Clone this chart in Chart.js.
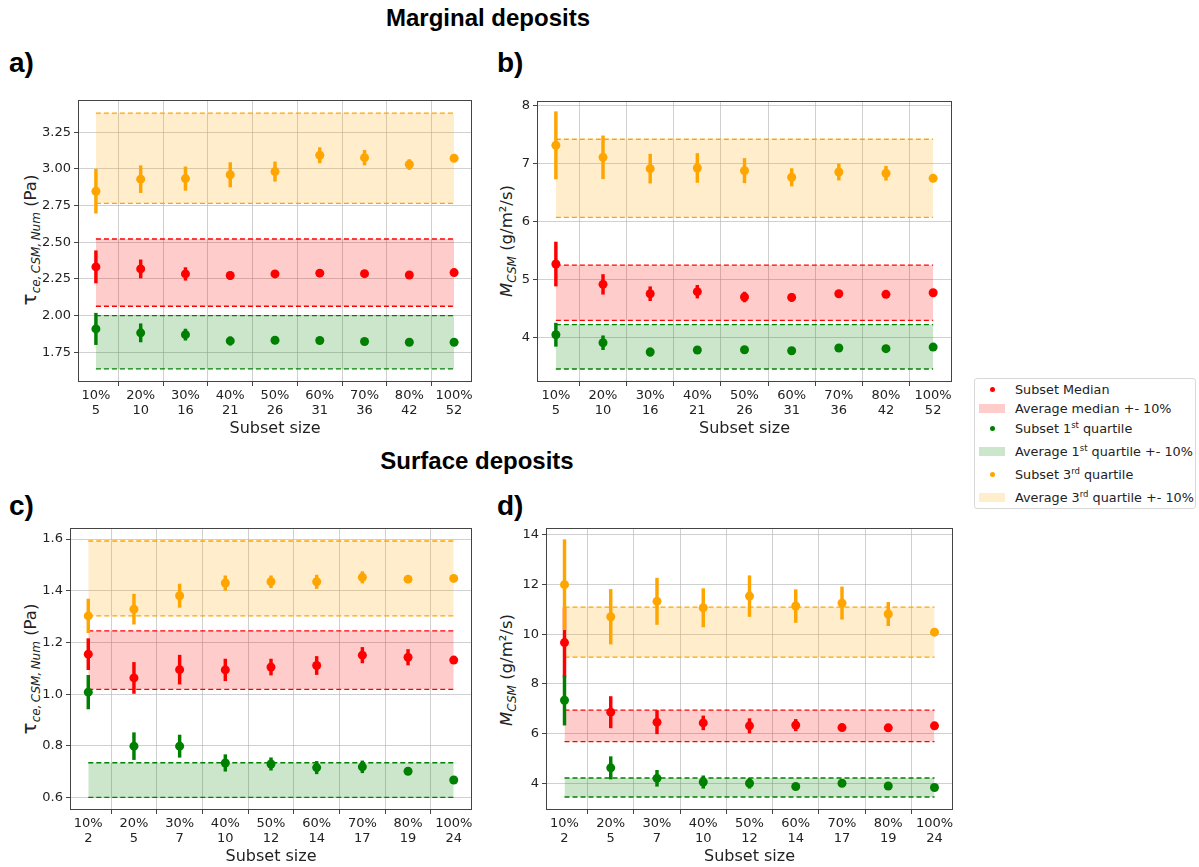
<!DOCTYPE html>
<html>
<head>
<meta charset="utf-8">
<script src="https://cdn.jsdelivr.net/npm/chart.js@4.4.0/dist/chart.umd.min.js"></script>
<style>
body { margin: 0; background: #fff; font-family: "DejaVu Sans", sans-serif; color: #222; }
#page { position: relative; width: 1199px; height: 867px; overflow: hidden; }
canvas { position: absolute; }
.title { position: absolute; font-family: "Liberation Sans", Arial, sans-serif; font-weight: bold; font-size: 24px; transform: translate(-50%, -50%); white-space: nowrap; color: #000; }
.plabel { position: absolute; font-family: "Liberation Sans", Arial, sans-serif; font-weight: bold; font-size: 28px; color: #000; }
.ylab { position: absolute; transform: translate(-50%, -50%) rotate(-90deg); white-space: nowrap; font-size: 16.5px; }
.ylab .big { font-size: 20px; }
.ylab sub { font-size: 12px; font-style: italic; }
#legend { position: absolute; left: 974px; top: 378px; width: 222px; height: 131px; border: 1px solid #d8d8d8; border-radius: 3px; box-sizing: border-box; font-size: 12.8px; }
.row { position: absolute; left: 0; height: 18px; width: 100%; }
.row span.txt { position: absolute; left: 40px; top: 50%; transform: translateY(-50%); white-space: nowrap; }
.row sup { font-size: 8.5px; }
.dot { position: absolute; left: 15px; top: 50%; width: 5px; height: 5px; margin-top: -2.5px; border-radius: 50%; }
.patch { position: absolute; left: 4px; top: 50%; width: 26px; height: 9px; margin-top: -4.5px; }
</style>
</head>
<body>
<div id="page">
  <div class="title" style="left:488px; top:18px;">Marginal deposits</div>
  <div class="title" style="left:477px; top:461px;">Surface deposits</div>
  <div class="plabel" style="left:9px; top:47px;">a)</div>
  <div class="plabel" style="left:497px; top:47px;">b)</div>
  <div class="plabel" style="left:9px; top:490px;">c)</div>
  <div class="plabel" style="left:497px; top:490px;">d)</div>

  <div class="ylab" style="left:30px; top:240px;"><span class="big">τ</span><sub>ce,&thinsp;CSM,&thinsp;Num</sub> (Pa)</div>
  <div class="ylab" style="left:508px; top:241px;"><i>M</i><sub>CSM</sub> (g/m²/s)</div>
  <div class="ylab" style="left:30px; top:669px;"><span class="big">τ</span><sub>ce,&thinsp;CSM,&thinsp;Num</sub> (Pa)</div>
  <div class="ylab" style="left:508px; top:670px;"><i>M</i><sub>CSM</sub> (g/m²/s)</div>

  <canvas id="chartA" width="454" height="356" style="left:28px; top:86px;"></canvas>
  <canvas id="chartB" width="475" height="355" style="left:487px; top:87px;"></canvas>
  <canvas id="chartC" width="462" height="356" style="left:20px; top:514px;"></canvas>
  <canvas id="chartD" width="467" height="356" style="left:496px; top:514px;"></canvas>

  <div id="legend">
    <div class="row" style="top:1px;"><div class="dot" style="background:red;"></div><span class="txt">Subset Median</span></div>
    <div class="row" style="top:20px;"><div class="patch" style="background:rgba(255,0,0,0.2);"></div><span class="txt">Average median +- 10%</span></div>
    <div class="row" style="top:40px;"><div class="dot" style="background:green;"></div><span class="txt">Subset 1<sup>st</sup> quartile</span></div>
    <div class="row" style="top:63px;"><div class="patch" style="background:rgba(0,128,0,0.2);"></div><span class="txt">Average 1<sup>st</sup> quartile +- 10%</span></div>
    <div class="row" style="top:86px;"><div class="dot" style="background:orange;"></div><span class="txt">Subset 3<sup>rd</sup> quartile</span></div>
    <div class="row" style="top:109px;"><div class="patch" style="background:rgba(255,165,0,0.2);"></div><span class="txt">Average 3<sup>rd</sup> quartile +- 10%</span></div>
  </div>
</div>

<script>
// x axis labels
var pctLabels = ['10%', '20%', '30%', '40%', '50%', '60%', '70%', '80%', '100%'];
var sizesMarginal = ['5', '10', '16', '21', '26', '31', '36', '42', '52'];
var sizesSurface = ['2', '5', '7', '10', '12', '14', '17', '19', '24'];

// a) marginal deposits, tau
var aMedian = [2.332, 2.318, 2.284, 2.273, 2.284, 2.289, 2.286, 2.277, 2.293];
var aMedianErr = [0.11, 0.062, 0.043, 0.025, 0.015, 0.012, 0.01, 0.008, 0];
var aQ1 = [1.909, 1.882, 1.870, 1.827, 1.832, 1.830, 1.823, 1.818, 1.818];
var aQ1Err = [0.107, 0.062, 0.038, 0.028, 0.014, 0.01, 0.008, 0.006, 0];
var aQ3 = [2.848, 2.930, 2.934, 2.960, 2.982, 3.093, 3.077, 3.030, 3.073];
var aQ3Err = [0.15, 0.092, 0.08, 0.083, 0.066, 0.052, 0.05, 0.034, 0];
var aAverages = [2.293, 1.818, 3.073]; // median, 1st quartile, 3rd quartile
var aTicks = ['1.75', '2.00', '2.25', '2.50', '2.75', '3.00', '3.25'];

// b) marginal deposits, M
var bMedian = [5.266, 4.915, 4.754, 4.789, 4.697, 4.690, 4.754, 4.743, 4.771];
var bMedianErr = [0.38, 0.17, 0.12, 0.11, 0.085, 0.07, 0.04, 0.03, 0];
var bQ1 = [4.046, 3.908, 3.747, 3.782, 3.787, 3.770, 3.816, 3.805, 3.833];
var bQ1Err = [0.2, 0.12, 0.07, 0.05, 0.03, 0.03, 0.03, 0.02, 0];
var bQ3 = [7.315, 7.108, 6.912, 6.924, 6.878, 6.763, 6.855, 6.832, 6.745];
var bQ3Err = [0.58, 0.37, 0.25, 0.25, 0.21, 0.15, 0.14, 0.12, 0];
var bAverages = [4.77, 3.838, 6.745];
var bTicks = ['4', '5', '6', '7', '8'];

// c) surface deposits, tau
var cMedian = [1.155, 1.063, 1.095, 1.094, 1.105, 1.111, 1.151, 1.143, 1.132];
var cMedianErr = [0.06, 0.06, 0.056, 0.042, 0.031, 0.035, 0.03, 0.03, 0];
var cQ1 = [1.008, 0.799, 0.799, 0.734, 0.730, 0.716, 0.719, 0.702, 0.668];
var cQ1Err = [0.065, 0.052, 0.043, 0.032, 0.024, 0.024, 0.023, 0.01, 0];
var cQ3 = [1.303, 1.329, 1.381, 1.430, 1.435, 1.435, 1.452, 1.445, 1.448];
var cQ3Err = [0.065, 0.058, 0.045, 0.028, 0.023, 0.026, 0.022, 0.01, 0];
var cAverages = [1.132, 0.668, 1.448];
var cTicks = ['0.6', '0.8', '1.0', '1.2', '1.4', '1.6'];

// d) surface deposits, M
var dMedian = [9.66, 6.86, 6.46, 6.43, 6.31, 6.34, 6.24, 6.23, 6.31];
var dMedianErr = [1.4, 0.63, 0.47, 0.28, 0.29, 0.23, 0.1, 0.08, 0];
var dQ1 = [7.34, 4.62, 4.20, 4.05, 4.00, 3.87, 4.00, 3.89, 3.83];
var dQ1Err = [1.0, 0.45, 0.32, 0.25, 0.2, 0.05, 0.08, 0.06, 0];
var dQ3 = [11.99, 10.70, 11.32, 11.06, 11.53, 11.13, 11.25, 10.81, 10.08];
var dQ3Err = [1.81, 1.1, 0.93, 0.77, 0.82, 0.66, 0.65, 0.47, 0];
var dAverages = [6.31, 3.83, 10.08];
var dTicks = ['4', '6', '8', '10', '12', '14'];

var RED = 'red', GREEN = 'green', ORANGE = 'orange';

Chart.defaults.font.family = '"DejaVu Sans", sans-serif';
Chart.defaults.color = '#222';
Chart.defaults.animation = false;

// full frame round the plot area, like matplotlib spines
var axesBox = {
    id: 'axesBox',
    afterDatasetsDraw: function(chart) {
        var a = chart.chartArea;
        var ctx = chart.ctx;
        ctx.save();
        ctx.strokeStyle = '#444';
        ctx.lineWidth = 1;
        ctx.strokeRect(Math.round(a.left) + 0.5, Math.round(a.top) + 0.5, Math.round(a.right - a.left) - 1, Math.round(a.bottom - a.top) - 1);
        ctx.restore();
    }
};

function points(vals, color) {
    return {
        type: 'scatter',
        data: vals.map(function(v, i) { return {x: i, y: v}; }),
        pointRadius: 4.5,
        pointBackgroundColor: color,
        pointBorderWidth: 0,
        showLine: false
    };
}

function errBars(vals, errs, color) {
    return {
        type: 'bar',
        data: vals.map(function(v, i) { return {x: i, y: [v - errs[i], v + errs[i]]}; }),
        backgroundColor: color,
        borderWidth: 0,
        barThickness: 2.8,
        grouped: false
    };
}

function bandEdge(value, color, fill, fillColor) {
    return {
        type: 'line',
        data: [{x: 0, y: value}, {x: pctLabels.length - 1, y: value}],
        borderColor: color,
        borderWidth: 1.3,
        borderDash: [5, 3],
        pointRadius: 0,
        fill: fill,
        backgroundColor: fillColor
    };
}

function makePanel(id, sizes, median, medianErr, q1, q1Err, q3, q3Err, averages, yMin, yMax, yTicks) {
    var ctx = document.getElementById(id).getContext('2d');
    // first dataset is drawn on top
    var datasets = [
        points(q3, ORANGE), errBars(q3, q3Err, ORANGE),
        points(q1, GREEN), errBars(q1, q1Err, GREEN),
        points(median, RED), errBars(median, medianErr, RED),
        bandEdge(averages[2] * 0.9, ORANGE, false), bandEdge(averages[2] * 1.1, ORANGE, '-1', 'rgba(255,165,0,0.2)'),
        bandEdge(averages[1] * 0.9, GREEN, false), bandEdge(averages[1] * 1.1, GREEN, '-1', 'rgba(0,128,0,0.2)'),
        bandEdge(averages[0] * 0.9, RED, false), bandEdge(averages[0] * 1.1, RED, '-1', 'rgba(255,0,0,0.2)')
    ];
    return new Chart(ctx, {
        type: 'scatter',
        data: {datasets: datasets},
        options: {
            responsive: false,
            layout: {padding: {top: 14, right: 10, left: 0, bottom: 0}},
            plugins: {legend: {display: false}, tooltip: {enabled: false}},
            scales: {
                x: {
                    type: 'linear',
                    min: -0.4,
                    max: pctLabels.length - 1 + 0.4,
                    offset: false,
                    afterBuildTicks: function(s) {
                        s.ticks = pctLabels.map(function(l, i) { return {value: i}; });
                    },
                    afterFit: function(s) { s.height = 60; },
                    ticks: {
                        autoSkip: false,
                        maxRotation: 0,
                        padding: 2,
                        font: {size: 13, lineHeight: 1.15},
                        callback: function(v) {
                            var i = Math.round(v);
                            return [pctLabels[i], sizes[i]];
                        }
                    },
                    grid: {color: 'rgba(176,176,176,0.6)', tickColor: '#444', tickLength: 4},
                    border: {display: false},
                    title: {display: true, text: 'Subset size', font: {size: 16}, padding: {top: 0, bottom: 4}}
                },
                y: {
                    type: 'linear',
                    min: yMin,
                    max: yMax,
                    afterBuildTicks: function(s) {
                        s.ticks = yTicks.map(function(t) { return {value: parseFloat(t)}; });
                    },
                    afterFit: function(s) { s.width = 50; },
                    ticks: {
                        padding: 3,
                        font: {size: 13},
                        callback: function(v, i) { return yTicks[i]; }
                    },
                    grid: {color: 'rgba(176,176,176,0.6)', tickColor: '#444', tickLength: 4},
                    border: {display: false}
                }
            }
        },
        plugins: [axesBox]
    });
}

makePanel('chartA', sizesMarginal, aMedian, aMedianErr, aQ1, aQ1Err, aQ3, aQ3Err, aAverages, 1.547, 3.47, aTicks);
makePanel('chartB', sizesMarginal, bMedian, bMedianErr, bQ1, bQ1Err, bQ3, bQ3Err, bAverages, 3.23, 8.08, bTicks);
makePanel('chartC', sizesSurface, cMedian, cMedianErr, cQ1, cQ1Err, cQ3, cQ3Err, cAverages, 0.552, 1.643, cTicks);
makePanel('chartD', sizesSurface, dMedian, dMedianErr, dQ1, dQ1Err, dQ3, dQ3Err, dAverages, 2.925, 14.27, dTicks);
</script>
</body>
</html>
